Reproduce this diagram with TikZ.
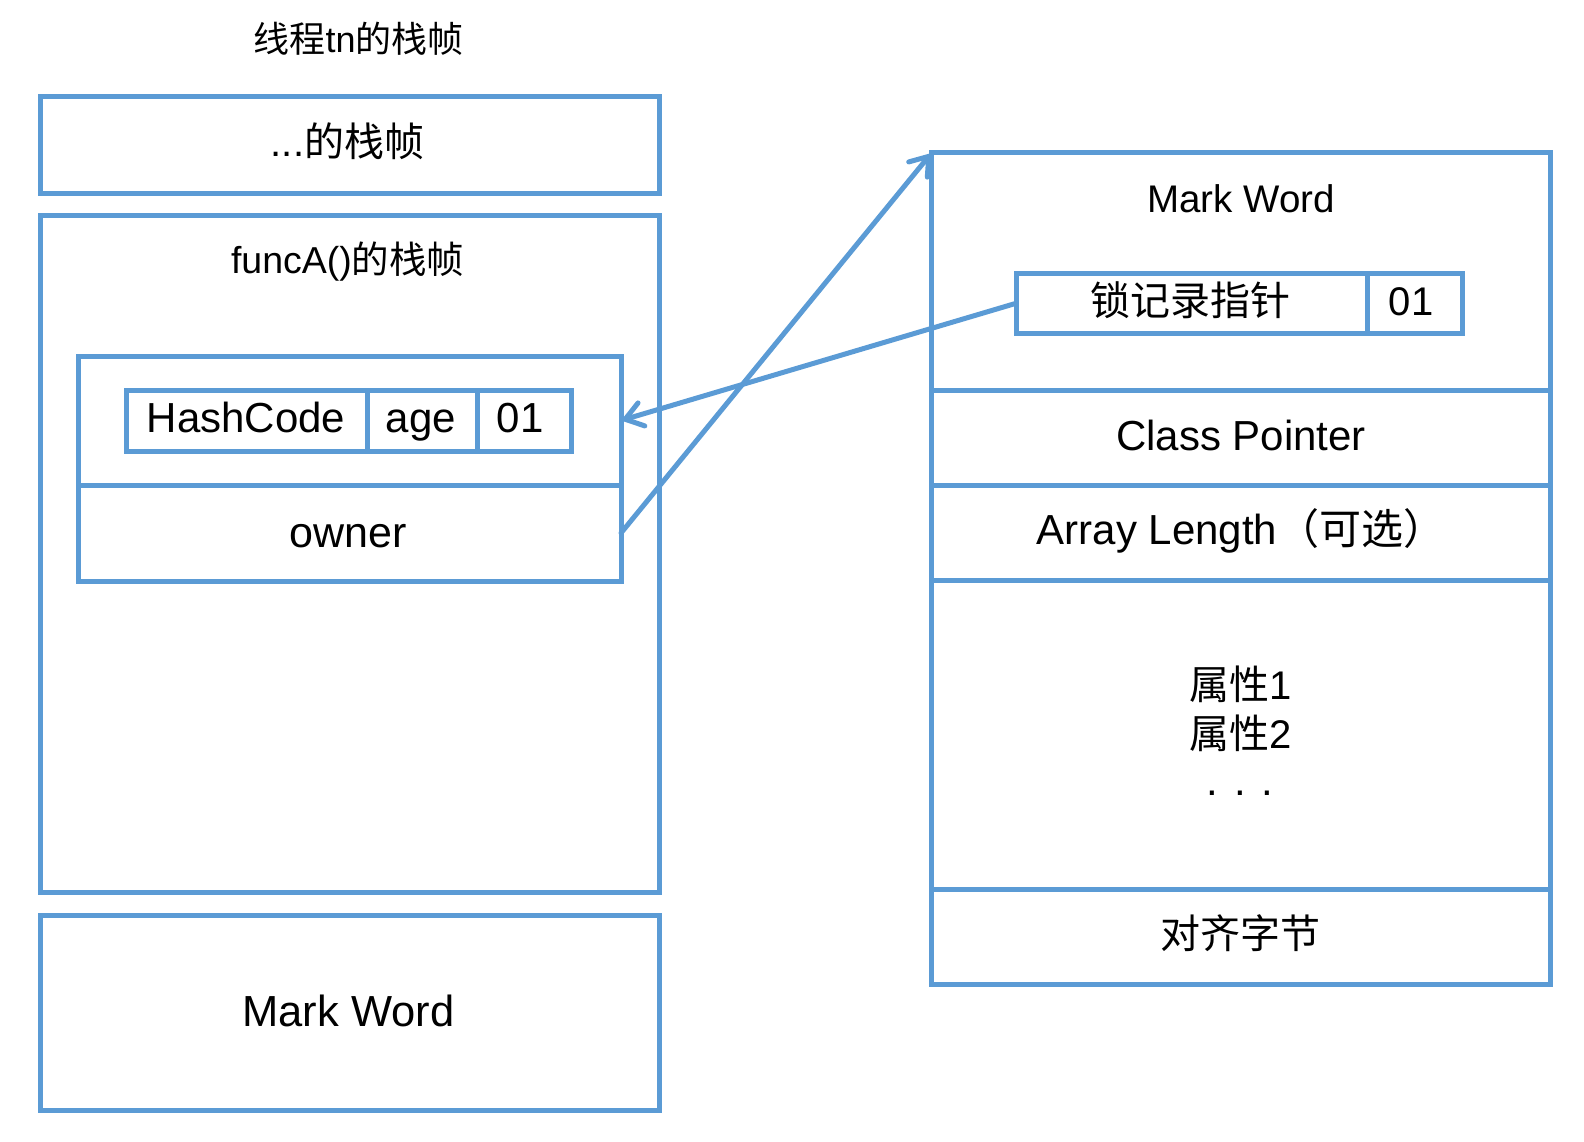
\documentclass[tikz,border=0pt]{standalone}
\usepackage{fontspec}
\setmainfont{Liberation Sans}
\newfontfamily\cjk{Noto Sans CJK SC}
\usepackage{tikz}
\usetikzlibrary{positioning,arrows.meta}
\definecolor{frameblue}{HTML}{5B9BD5}
\newcommand{\fs}[1]{\fontsize{#1}{#1}\selectfont}

\begin{document}
\begin{tikzpicture}[x=1pt,y=-1pt,
    box/.style={draw=frameblue,line width=5pt,outer sep=0pt,inner sep=0pt},
    txt/.style={inner sep=0pt,anchor=base,font=\fs{42}},
    link/.style={draw=frameblue,line width=5pt,line cap=round,
      -{Straight Barb[length=17pt,width=24pt,line cap=round]}}]
    \useasboundingbox (0,0) rectangle (1584,1142);

    % stack of thread tn
    \node[box,minimum width=619.5,minimum height=97]    (upper) at (349.75,145.5)  {};
    \node[box,minimum width=619.5,minimum height=676.5] (funcA) at (349.75,553.75) {};
    \node[box,minimum width=619.5,minimum height=195.5] (ownmw) at (349.75,1012.75) {};
    \node[box,minimum width=543,minimum height=129] (lockrec) at (349.5,420.5) {};
    \node[box,minimum width=543,minimum height=96,below=0pt of lockrec] (owner) {};
    \node[box,minimum width=241,minimum height=61] (hash) at (246.5,420.5) {};
    \node[box,minimum width=110,minimum height=61,right=0pt of hash] (age)  {};
    \node[box,minimum width=94.5,minimum height=61,right=0pt of age] (flag) {};

    % object header
    \node[box,minimum width=619,minimum height=237] (mw) at (1241,271.5) {};
    \node[box,minimum width=619,minimum height=95,below=0pt of mw]     (klass)  {};
    \node[box,minimum width=619,minimum height=95,below=0pt of klass]  (arrlen) {};
    \node[box,minimum width=619,minimum height=309,below=0pt of arrlen] (fields) {};
    \node[box,minimum width=619,minimum height=95,below=0pt of fields] (pad)    {};
    \node[box,minimum width=351,minimum height=60] (lockptr) at (1191.5,303.3) {};
    \node[box,minimum width=95.5,minimum height=60,right=0pt of lockptr] (lockflag) {};

    % texts
    \node[txt,font=\fs{36}] (title) at (358.7,53) {{\cjk 线程}tn{\cjk 的栈帧}};
    \node[txt,font=\fs{40}] (uppertxt) at (347.5,157) {...{\cjk 的栈帧}};
    \node[txt,font=\fs{37.5}] (funcAtxt) at (347.7,273) {funcA(){\cjk 的栈帧}};
    \node[txt] (hashtxt) at (246,432.7) {HashCode};
    \node[txt] (agetxt)  at (421,432.7) {age};
    \node[txt] (flagtxt) at (520,432.7) {01};
    \node[txt,font=\fs{43}] (ownertxt) at (348.5,547) {owner};
    \node[txt,font=\fs{43.5}] (ownmwtxt) at (348.3,1026) {Mark Word};

    \node[txt,font=\fs{38.5}] (mwtxt) at (1241,212.3) {Mark Word};
    \node[txt,font=\fs{40}] (lockptrtxt)  at (1190.5,315.5) {\cjk 锁记录指针};
    \node[txt,font=\fs{40}] (lockflagtxt) at (1411,315) {01};
    \node[txt] (klasstxt)  at (1241,450) {Class Pointer};
    \node[txt] (arrlentxt) at (1241,544) {Array Length{\cjk （可选）}};
    \node[txt,font=\fs{40},anchor=base west] (field1) at (1189,699) {{\cjk 属性}1};
    \node[txt,font=\fs{40},anchor=base west] (field2) at (1189,748) {{\cjk 属性}2};
    \node[txt] (fielddots) at (1240,795) {. . .};
    \node[txt,font=\fs{40}] (padtxt) at (1240.5,948) {\cjk 对齐字节};

    % pointers
    \draw[link] (owner.east) -- (mw.north west);
    \draw[link] (lockptr.west) -- (lockrec.east);
\end{tikzpicture}
\end{document}
